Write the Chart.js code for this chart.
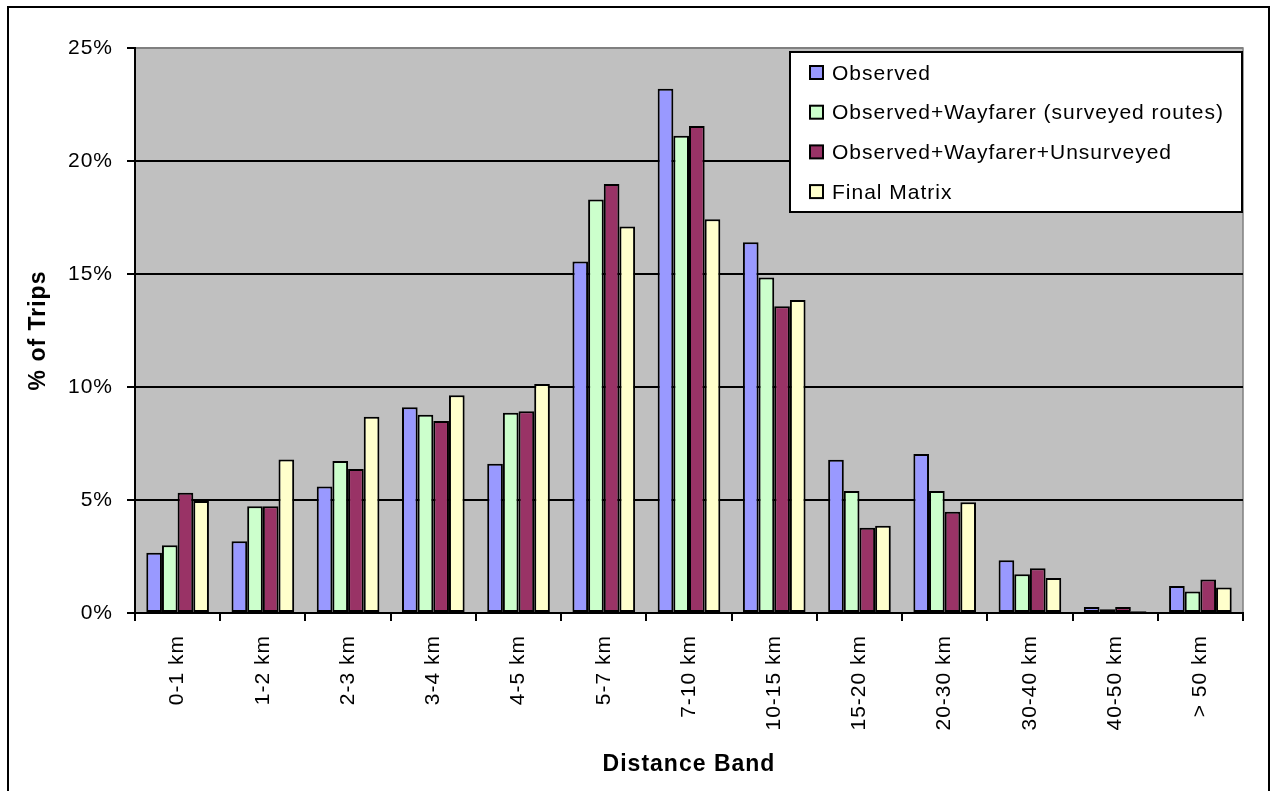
<!DOCTYPE html>
<html>
<head>
<meta charset="utf-8">
<script src="https://cdn.jsdelivr.net/npm/chart.js@4.4.1/dist/chart.umd.min.js"></script>
<style>
  html, body { margin: 0; padding: 0; background: #fff; }
  #wrap { width: 1275px; height: 791px; position: relative; }
</style>
</head>
<body>
<div id="wrap"><canvas id="myChart" width="1275" height="791"></canvas></div>
<script>
// distance bands and % of trips for each stage
const bands = ['0-1 km', '1-2 km', '2-3 km', '3-4 km', '4-5 km', '5-7 km', '7-10 km',
  '10-15 km', '15-20 km', '20-30 km', '30-40 km', '40-50 km', '> 50 km'];
const observed = [2.67, 3.17, 5.6, 9.1, 6.6, 15.55, 23.2, 16.4, 6.78, 7.04, 2.33, 0.26, 1.2];
const obsWayfarer = [3.0, 4.72, 6.73, 8.77, 8.86, 18.3, 21.12, 14.85, 5.4, 5.4, 1.71, 0.17, 0.95];
const obsWayUnsurveyed = [5.32, 4.72, 6.37, 8.5, 8.93, 18.98, 21.55, 13.57, 3.77, 4.48, 1.98, 0.26, 1.48];
const finalMatrix = [4.96, 6.79, 8.68, 9.63, 10.13, 17.1, 17.42, 13.85, 3.86, 4.9, 1.55, 0.08, 1.13];
const yTicks = [0, 5, 10, 15, 20, 25];

const seriesNames = ['Observed', 'Observed+Wayfarer (surveyed routes)', 'Observed+Wayfarer+Unsurveyed', 'Final Matrix'];
const seriesColors = ['#9999FF', '#CCFFCC', '#993366', '#FFFFCC'];
const seriesData = [observed, obsWayfarer, obsWayUnsurveyed, finalMatrix];

const FONT = "'Liberation Sans', Arial, sans-serif";

// grey plot background + outer frame
const bgPlugin = {
  id: 'plotBg',
  beforeDraw(chart) {
    const { ctx, chartArea: a } = chart;
    ctx.save();
    ctx.fillStyle = '#C0C0C0';
    ctx.fillRect(a.left, a.top, a.right - a.left, a.bottom - a.top);
    ctx.strokeStyle = '#808080';
    ctx.lineWidth = 1.5;
    ctx.beginPath();
    ctx.moveTo(a.left, a.top);
    ctx.lineTo(a.right, a.top);
    ctx.lineTo(a.right, a.bottom);
    ctx.stroke();
    ctx.strokeStyle = '#000';
    ctx.lineWidth = 2;
    ctx.strokeRect(8, 7, 1261, 790);
    ctx.restore();
    ctx.letterSpacing = '1px';
  }
};

// legend box inside the plot, like the excel one
const boxLegend = {
  id: 'boxLegend',
  afterDraw(chart) {
    const ctx = chart.ctx;
    ctx.save();
    ctx.letterSpacing = '1px';
    ctx.fillStyle = '#fff';
    ctx.fillRect(790, 52, 452, 160);
    ctx.strokeStyle = '#000';
    ctx.lineWidth = 2;
    ctx.strokeRect(790, 52, 452, 160);
    ctx.font = '21px ' + FONT;
    ctx.textBaseline = 'middle';
    chart.data.datasets.forEach((ds, i) => {
      const y = 73 + i * 39.7;
      ctx.fillStyle = ds.backgroundColor;
      ctx.fillRect(810, y - 7, 13, 13);
      ctx.lineWidth = 2;
      ctx.strokeRect(810, y - 7, 13, 13);
      ctx.fillStyle = '#000';
      ctx.fillText(ds.label, 832, y + 1);
    });
    ctx.restore();
  }
};

const ctx = document.getElementById('myChart').getContext('2d');
const chart = new Chart(ctx, {
  type: 'bar',
  data: {
    labels: bands,
    datasets: seriesNames.map((name, i) => ({
      label: name,
      data: seriesData[i],
      backgroundColor: seriesColors[i],
      borderColor: '#000',
      borderWidth: 2,
      borderSkipped: false,
      categoryPercentage: 0.735,
      barPercentage: 1
    }))
  },
  options: {
    responsive: false,
    animation: false,
    devicePixelRatio: 1,
    layout: { padding: { left: 0, top: 48, right: 32, bottom: 0 } },
    plugins: {
      legend: { display: false },
      tooltip: { enabled: false }
    },
    scales: {
      x: {
        grid: { display: true, drawOnChartArea: false, offset: true, color: '#000', lineWidth: 2, tickLength: 8 },
        border: { display: true, color: '#000', width: 2 },
        ticks: { color: '#000', font: { family: FONT, size: 21 }, minRotation: 90, maxRotation: 90, padding: 14, autoSkip: false },
        title: { display: true, text: 'Distance Band', color: '#000', font: { family: FONT, size: 23, weight: 'bold' }, padding: { top: 0, bottom: 13 } },
        afterFit(scale) { scale.height = 178; }
      },
      y: {
        min: 0,
        max: 25,
        afterBuildTicks(scale) { scale.ticks = yTicks.map(v => ({ value: v })); },
        grid: {
          color: c => (c.tick && c.tick.value === 25 ? '#808080' : '#000'),
          lineWidth: 2,
          tickLength: 8,
          tickColor: '#000'
        },
        border: { display: true, color: '#000', width: 2 },
        ticks: { color: '#000', font: { family: FONT, size: 21 }, padding: 14, callback: v => v + '%' },
        title: { display: true, text: '% of Trips', color: '#000', font: { family: FONT, size: 23, weight: 'bold' }, padding: { top: 25, bottom: 0 } },
        afterFit(scale) { scale.width = 135; }
      }
    }
  },
  plugins: [bgPlugin, boxLegend]
});
</script>
</body>
</html>
